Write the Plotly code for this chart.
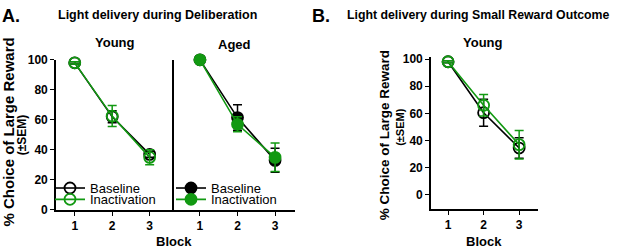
import plotly.graph_objects as go

W, H = 617, 248
FONT = "Liberation Sans, Arial, sans-serif"
GREEN = "#129912"

blocks = [1, 2, 3]
block_labels = ["1", "2", "3"]
y_ticks = [0, 20, 40, 60, 80, 100]

# Panel A - Young (Deliberation)
a_young_base = [98, 62, 37]
a_young_base_err = [0.8, 4, 2]
a_young_inact = [98, 62.5, 35]
a_young_inact_err = [0.8, 7, 5]

# Panel A - Aged (Deliberation)
a_aged_base = [100, 61.5, 33]
a_aged_base_err = [0, 8.5, 8]
a_aged_inact = [100, 57, 35]
a_aged_inact_err = [0, 5, 9.5]

# Panel B - Young (Small Reward Outcome)
b_young_base = [98, 60.5, 34.5]
b_young_base_err = [0.8, 10, 7.5]
b_young_inact = [98, 66, 37]
b_young_inact_err = [0.8, 8, 10.5]


def px_x(p):
    return p / W


def px_y(p):
    return 1 - p / H


fig = go.Figure()


def add_series(xa, ya, y, err, color, filled, name, legend, showlegend):
    fig.add_trace(go.Scatter(
        x=blocks, y=y, xaxis=xa, yaxis=ya, name=name, legend=legend,
        showlegend=showlegend, mode="lines+markers", cliponaxis=False,
        line=dict(color=color, width=1.6),
        marker=dict(size=11, symbol="circle" if filled else "circle-open",
                    color=color, line=dict(color=color, width=1.8)),
        error_y=dict(type="data", array=err, visible=True, color=color,
                     thickness=1.5, width=4.5),
    ))


add_series("x", "y", a_young_base, a_young_base_err, "black", False, "Baseline", "legend", True)
add_series("x", "y", a_young_inact, a_young_inact_err, GREEN, False, "Inactivation", "legend2", True)
add_series("x2", "y2", a_aged_base, a_aged_base_err, "black", True, "Baseline", "legend3", True)
add_series("x2", "y2", a_aged_inact, a_aged_inact_err, GREEN, True, "Inactivation", "legend4", True)
add_series("x3", "y3", b_young_base, b_young_base_err, "black", False, "Baseline", "legend", False)
add_series("x3", "y3", b_young_inact, b_young_inact_err, GREEN, False, "Inactivation", "legend", False)

tickfont = dict(family=FONT, size=12, color="black", weight="bold")
common_x = dict(tickmode="array", tickvals=blocks, ticktext=block_labels,
                showline=True, linecolor="black", linewidth=1.6, ticks="outside",
                ticklen=4, tickwidth=1.4, tickcolor="black", showgrid=False,
                zeroline=False, tickfont=tickfont)
common_y = dict(showline=True, linecolor="black", linewidth=1.6, showgrid=False,
                zeroline=False, tickfont=tickfont)


def leg(xpx, ytop):
    return dict(x=px_x(xpx), y=px_y(ytop), xanchor="left", yanchor="top",
                font=dict(family=FONT, size=13, color="black"),
                bgcolor="rgba(0,0,0,0)", itemwidth=30, tracegroupgap=0)


fig.update_layout(
    width=W, height=H, margin=dict(l=0, r=0, t=0, b=0),
    paper_bgcolor="white", plot_bgcolor="white",
    xaxis=dict(domain=[px_x(56), px_x(174)], range=[0.5, 3.65], anchor="y", **common_x),
    yaxis=dict(domain=[px_y(215), px_y(56)], range=[0, 100], anchor="x",
               tickvals=y_ticks, ticks="outside", ticklen=4, tickwidth=1.4,
               tickcolor="black", **common_y),
    xaxis2=dict(domain=[px_x(174), px_x(295)], range=[0.31, 3.53], anchor="y2", **common_x),
    yaxis2=dict(domain=[px_y(215), px_y(56)], range=[0, 100], anchor="x2",
                showticklabels=False, ticks="", **common_y),
    xaxis3=dict(domain=[px_x(431), px_x(538)], range=[0.52, 3.53], anchor="y3", **common_x),
    yaxis3=dict(domain=[px_y(214), px_y(53)], range=[-10.3, 101.5], anchor="x3",
                tickvals=y_ticks, ticks="outside", ticklen=4, tickwidth=1.4,
                tickcolor="black", **common_y),
    legend=leg(50, 176),
    legend2=leg(50, 188),
    legend3=leg(171, 176),
    legend4=leg(171, 188),
    showlegend=True,
)

annotations = [
    dict(text="A.", x=px_x(1), y=px_y(10), xanchor="left", size=18),
    dict(text="Light delivery during Deliberation", x=px_x(157), y=px_y(8), size=12.5),
    dict(text="B.", x=px_x(311), y=px_y(10), xanchor="left", size=18),
    dict(text="Light delivery during Small Reward Outcome", x=px_x(478), y=px_y(8), size=12.3),
    dict(text="Young", x=px_x(115), y=px_y(38), size=13),
    dict(text="Aged", x=px_x(234), y=px_y(40), size=13),
    dict(text="Young", x=px_x(483), y=px_y(38), size=13),
    dict(text="Block", x=px_x(174), y=px_y(248), size=13),
    dict(text="Block", x=px_x(484), y=px_y(248), size=13),
    dict(text="% Choice of Large Reward", x=px_x(8), y=px_y(133), size=15, textangle=-90),
    dict(text="(±SEM)", x=px_x(22), y=px_y(136), size=12, textangle=-90),
    dict(text="% Choice of Large Reward", x=px_x(384), y=px_y(136), size=13.5, textangle=-90),
    dict(text="(±SEM)", x=px_x(400), y=px_y(127), size=11, textangle=-90),
]
for a in annotations:
    fig.add_annotation(
        text=a["text"], x=a["x"], y=a["y"], xref="paper", yref="paper",
        xanchor=a.get("xanchor", "center"), yanchor=a.get("yanchor", "middle"),
        showarrow=False, textangle=a.get("textangle", 0), borderpad=0,
        font=dict(family=FONT, size=a["size"], color="black", weight="bold"),
    )

fig.write_html("out.html", config={"displayModeBar": False},
               post_script="document.body.style.margin='0';")
